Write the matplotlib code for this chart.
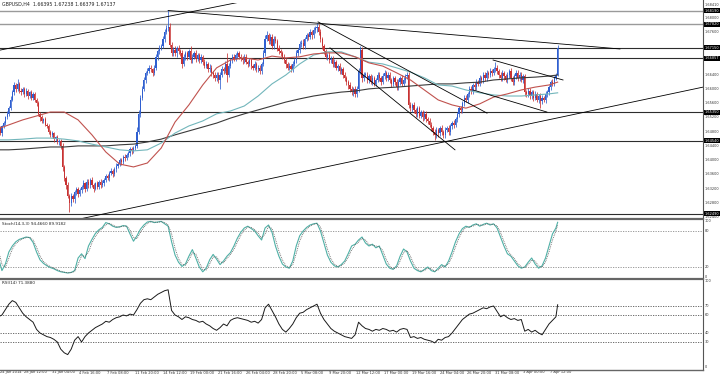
import numpy as np
import pandas as pd
import matplotlib
matplotlib.use('Agg')
import matplotlib.pyplot as plt
from matplotlib.lines import Line2D
from matplotlib.transforms import blended_transform_factory as blend

# GBPUSD H4, prices in pips above 1.6000 (bar 0 = 24 Jan 2014 00:00)
first_open = 485
closes = [
    480, 470, 490, 475, 495, 505, 520, 530, 545, 570,
    590, 610, 600, 615, 595, 590, 600, 585, 595, 580,
    590, 575, 585, 570, 560, 530, 520, 510, 515, 500,
    495, 480, 470, 475, 460, 465, 450, 455, 440, 380,
    350, 330, 300, 280, 300, 290, 310, 320, 305, 315,
    325, 335, 320, 340, 330, 345, 330, 320, 335, 325,
    340, 330, 335, 345, 355, 350, 365, 370, 360, 375,
    385, 390, 400, 395, 410, 405, 415, 420, 430, 425,
    435, 440, 480, 530, 575, 600, 625, 645, 650, 660,
    655, 645, 660, 690, 705, 715, 720, 740, 760, 770,
    775, 723, 700, 710, 700, 715, 705, 700, 670, 690,
    700, 690, 705, 680, 690, 700, 685, 695, 680, 690,
    675, 665, 670, 655, 660, 645, 640, 630, 640, 625,
    640, 655, 650, 670, 640, 665, 680, 690, 685, 695,
    700, 690, 685, 680, 690, 675, 670, 680, 665, 660,
    670, 655, 660, 650, 670, 700, 740, 750, 735, 745,
    720, 740, 735, 715, 705, 700, 690, 680, 670, 660,
    665, 655, 670, 680, 700, 710, 725, 730, 720, 740,
    750, 745, 760, 750, 765, 770, 775, 760, 740, 720,
    705, 690, 695, 680, 685, 670, 675, 660, 665, 650,
    655, 640, 630, 620, 610, 600, 590, 600, 585, 600,
    650, 710, 630, 640, 640, 625, 635, 620, 630, 615,
    625, 640, 630, 620, 635, 645, 630, 640, 625, 615,
    630, 620, 605, 620, 630, 615, 625, 635, 640, 555,
    545, 555, 540, 530, 545, 525, 535, 520, 530, 515,
    510, 500, 490, 480, 470, 485, 475, 490, 480, 470,
    485, 490, 480, 495, 505, 500, 515, 530, 545, 540,
    560, 575, 570, 585, 600, 595, 610, 605, 620, 615,
    630, 625, 640, 630, 645, 640, 650, 645, 655, 660,
    650, 640, 630, 645, 635, 625, 640, 650, 630, 620,
    635, 645, 630, 640, 625, 635, 590, 585, 595, 580,
    590, 575, 585, 570, 580, 565, 575, 570, 585, 590,
    605, 620, 615, 630, 639.5, 713.7,
]
wick_up = [
    5, 6, 4, 7, 5, 6, 4, 8, 6, 9,
    8, 10, 6, 12, 5, 7, 6, 5, 8, 6,
    5, 7, 6, 5, 4, 6, 5, 7, 4, 6,
    5, 6, 4, 8, 5, 4, 6, 5, 4, 8,
    6, 5, 8, 5, 9, 6, 7, 5, 6, 7,
    6, 8, 5, 7, 6, 5, 8, 6, 5, 7,
    5, 6, 8, 5, 7, 6, 5, 8, 6, 5,
    6, 5, 7, 6, 5, 8, 6, 5, 7, 6,
    5, 6, 12, 10, 8, 9, 7, 6, 8, 7,
    6, 5, 8, 7, 6, 8, 7, 9, 8, 10,
    45, 10, 8, 7, 9, 6, 8, 7, 10, 8,
    7, 6, 8, 15, 7, 6, 8, 7, 6, 8,
    6, 8, 7, 6, 9, 7, 6, 8, 7, 6,
    7, 8, 6, 9, 30, 7, 6, 8, 7, 6,
    6, 7, 8, 6, 7, 9, 6, 8, 7, 6,
    7, 6, 8, 7, 6, 10, 10, 12, 8, 10,
    8, 7, 9, 6, 8, 7, 6, 8, 7, 6,
    7, 6, 8, 7, 9, 6, 8, 7, 9, 6,
    8, 7, 9, 6, 8, 7, 10, 8, 7, 6,
    7, 8, 6, 9, 7, 6, 8, 7, 6, 8,
    7, 6, 8, 7, 6, 8, 7, 6, 8, 7,
    8, 10, 8, 7, 6, 8, 7, 6, 8, 7,
    6, 8, 7, 6, 9, 7, 6, 8, 7, 6,
    7, 6, 8, 7, 6, 8, 7, 6, 8, 8,
    7, 6, 8, 7, 6, 8, 7, 6, 8, 7,
    6, 7, 8, 6, 7, 8, 6, 7, 8, 6,
    7, 6, 8, 7, 6, 8, 7, 6, 8, 7,
    6, 8, 7, 6, 8, 7, 6, 8, 7, 6,
    8, 7, 6, 8, 7, 6, 8, 7, 6, 15,
    7, 6, 8, 7, 6, 8, 7, 6, 8, 7,
    6, 8, 7, 6, 8, 7, 8, 6, 7, 8,
    7, 6, 8, 7, 6, 8, 7, 6, 8, 7,
    7, 6, 8, 7, 6, 10,
]
wick_dn = [
    6, 5, 7, 4, 6, 5, 7, 5, 6, 4,
    5, 6, 8, 5, 7, 6, 5, 8, 6, 7,
    6, 5, 7, 6, 8, 5, 9, 6, 7, 5,
    6, 7, 5, 6, 8, 5, 6, 7, 9, 10,
    8, 10, 7, 25, 8, 6, 9, 7, 8, 6,
    7, 5, 8, 6, 7, 9, 6, 8, 5, 7,
    6, 8, 5, 7, 6, 5, 8, 6, 7, 5,
    7, 6, 5, 8, 6, 7, 5, 6, 8, 7,
    6, 7, 5, 6, 8, 7, 6, 9, 7, 6,
    8, 9, 6, 7, 8, 6, 7, 6, 8, 7,
    8, 6, 9, 7, 8, 10, 7, 8, 12, 7,
    8, 9, 7, 6, 8, 7, 9, 6, 8, 7,
    8, 7, 6, 9, 7, 8, 10, 7, 9, 8,
    25, 8, 7, 6, 20, 8, 7, 6, 8, 7,
    7, 6, 8, 9, 7, 6, 8, 7, 9, 8,
    8, 7, 9, 8, 7, 6, 8, 7, 9, 8,
    9, 8, 7, 10, 8, 9, 7, 8, 10, 7,
    8, 9, 7, 6, 8, 7, 9, 8, 7, 9,
    7, 8, 6, 9, 7, 8, 9, 10, 8, 9,
    8, 7, 9, 8, 7, 9, 8, 7, 9, 8,
    8, 9, 7, 8, 10, 9, 8, 10, 9, 8,
    9, 7, 10, 8, 7, 9, 8, 7, 9, 8,
    8, 7, 9, 8, 7, 8, 9, 7, 8, 9,
    8, 9, 7, 8, 9, 7, 8, 9, 7, 8,
    8, 9, 7, 8, 9, 7, 8, 9, 7, 8,
    9, 8, 7, 9, 13, 8, 9, 7, 8, 9,
    8, 7, 9, 8, 7, 9, 8, 7, 8, 9,
    8, 7, 8, 9, 7, 8, 9, 7, 8, 7,
    7, 8, 9, 7, 8, 9, 7, 8, 7, 8,
    8, 9, 7, 8, 9, 7, 8, 9, 7, 8,
    9, 7, 8, 9, 7, 8, 10, 8, 9, 7,
    8, 9, 7, 8, 9, 20, 8, 7, 9, 8,
    7, 8, 6, 7, 5, 2,
]

# moving averages, sampled every 8 bars (pips above 1.6000)
ma_bars = list(range(0, 321, 8)) + [325]
ma_fast = [485, 499, 513, 524, 535, 535, 513, 471, 423, 389,
           381, 392, 434, 507, 555, 611, 659, 681, 687, 681,
           692, 687, 690, 698, 701, 701, 690, 673, 664, 645,
           625, 597, 569, 555, 546, 558, 577, 586, 597, 605,
           611, 619]
ma_mid = [457, 457, 459, 462, 462, 459, 454, 445, 437, 429,
          426, 429, 448, 476, 496, 510, 530, 538, 552, 580,
          614, 639, 670, 695, 704, 704, 690, 675, 670, 659,
          647, 631, 611, 608, 597, 589, 583, 580, 580, 583,
          586, 589]
ma_slow = [429, 429, 431, 434, 437, 437, 440, 440, 440, 443,
           445, 451, 459, 471, 482, 493, 504, 518, 530, 541,
           552, 563, 572, 580, 586, 591, 594, 600, 603, 605,
           608, 611, 614, 614, 617, 619, 625, 628, 631, 633,
           636, 639]

# oscillators, sampled every 2 bars
osc_bars = list(range(0, 325, 2)) + [325]
stoch_k = [
    60, 35, 14, 25, 45, 55, 62, 66, 68, 70,
    69, 61, 45, 32, 26, 22, 19, 17, 14, 12,
    11, 10, 11, 14, 35, 42, 34, 55, 66, 76,
    82, 86, 94, 92, 88, 86, 87, 89, 88, 75,
    63, 72, 83, 90, 95, 96, 94, 95, 96, 92,
    88, 62, 40, 28, 21, 25, 38, 49, 35, 20,
    12, 18, 32, 41, 33, 24, 30, 38, 44, 55,
    68,
    78, 85, 88, 84, 80, 72, 65, 85, 90, 78,
    55, 38, 25, 20, 18, 30, 55, 72, 80, 86,
    90, 92, 93, 80, 60, 40, 28, 22, 20, 24,
    30, 42, 55, 58, 65, 70, 60, 55, 58, 52,
    55, 40, 25, 18, 16, 22, 38, 50, 45, 30,
    18, 14, 12, 16, 20, 14, 12, 18, 24, 20,
    30, 45, 62, 75, 84, 88, 86, 90, 92, 88,
    91, 93, 90, 92, 85, 70, 55, 42, 38, 30,
    22, 18, 20, 28, 35, 25, 18, 22, 35, 55,
    75, 85, 94.466,
]
rsi = [
    62, 58, 60, 66, 72, 76, 74, 68, 62, 58,
    55, 52, 44, 40, 38, 36, 35, 33, 30, 22,
    18, 16, 22, 32, 36, 30, 36, 40, 43, 46,
    48, 50, 53, 52, 55, 57, 58, 60, 59, 61,
    60, 66, 73, 77, 78, 77, 80, 83, 85, 87,
    88, 65, 60, 58, 55, 58, 57, 55, 54, 52,
    53, 50, 48, 45, 43, 46, 50, 48, 54, 56,
    57,
    56, 55, 54, 52, 53, 51, 55, 68, 72, 65,
    58, 50, 44, 41, 45, 50, 57, 62, 63, 66,
    68, 70, 72, 62, 55, 50, 45, 42, 40, 38,
    36, 35, 34, 38, 52, 48, 45, 44, 42, 44,
    43, 45, 44, 42, 43, 41, 44, 45, 44, 35,
    36, 34, 35, 33, 32, 31, 29, 33, 32, 35,
    36, 40, 45, 50, 55, 58, 61, 62, 64, 66,
    68, 67, 69, 70, 64, 58, 60, 57, 55, 56,
    54, 55, 42, 44, 41, 43, 40, 38, 44, 50,
    54, 58, 71.388,
]

# drawn objects: horizontal levels and trend lines (bar, price)
levels_grey = [1.68190, 1.67820]
levels_dark = [1.67150, 1.66857, 1.65350, 1.64540, 1.62490]
trend_lines = [
    ((0, 1.6706), (150, 1.6852)),
    ((100, 1.6820), (361, 1.6712)),
    ((49, 1.6235), (409, 1.6605)),
    ((186.6, 1.6788), (284.2, 1.6532)),
    ((193.5, 1.6715), (265.7, 1.6429)),
    ((287.7, 1.6681), (328.1, 1.6625)),
    ((276.1, 1.6597), (318.8, 1.6535)),
]
price_ticks = [1.68000, 1.67600, 1.66400, 1.66000, 1.65600, 1.65200,
               1.64800, 1.64400, 1.64000, 1.63600, 1.63200, 1.62800, 1.62400]
date_labels = ["24 Jan 2014", "28 Jan 12:00", "31 Jan 04:00", "4 Feb 16:00", "7 Feb 08:00",
               "11 Feb 20:00", "14 Feb 12:00", "19 Feb 00:00", "21 Feb 16:00", "26 Feb 04:00",
               "28 Feb 20:00", "5 Mar 08:00", "9 Mar 20:00", "12 Mar 12:00", "17 Mar 00:00",
               "19 Mar 16:00", "24 Mar 04:00", "26 Mar 20:00", "31 Mar 08:00", "3 Apr 00:00",
               "7 Apr 12:00"]

BLUE = '#2f5fd0'
RED = '#c83232'
W, H = 720, 376
RX = 703  # right axis, px
FS = 2.5  # scale font

fig = plt.figure(figsize=(W / 100, H / 100), dpi=100)


def panel(top, bottom):
    a = fig.add_axes([0, 1 - bottom / H, RX / W, (bottom - top) / H])
    a.set_xlim(2.89, 408.96)
    a.set_xticks([])
    a.set_yticks([])
    for s in a.spines.values():
        s.set_visible(False)
    return a


ax = panel(3, 219)
ax_st = panel(219, 279)
ax_rsi = panel(279, 369)

# candles
c = 1.6 + np.array(closes) / 1e4
o = np.r_[1.6 + first_open / 1e4, c[:-1]]
hi = np.maximum(o, c) + np.array(wick_up) / 1e4
lo = np.minimum(o, c) - np.array(wick_dn) / 1e4
x = np.arange(len(c))
col = np.where(c >= o, BLUE, RED)
ax.vlines(x, lo, hi, colors=col, lw=0.55, zorder=2)
ax.bar(x, np.maximum(np.abs(c - o), 0.00005), bottom=np.minimum(o, c),
       width=0.7, color=col, lw=0, zorder=2)
ax.set_ylim(1.62349, 1.6841)

mb = np.array(ma_bars)
ax.plot(mb, 1.6 + np.array(ma_slow) / 1e4, color='#3a3a3a', lw=0.8, zorder=3)
ax.plot(mb, 1.6 + np.array(ma_mid) / 1e4, color='#72b6bb', lw=0.8, zorder=3)
ax.plot(mb, 1.6 + np.array(ma_fast) / 1e4, color='#c0524e', lw=0.8, zorder=3)

for p in levels_grey:
    ax.axhline(p, color='#9a9a9a', lw=1.0, zorder=1)
for p in levels_dark:
    ax.axhline(p, color='#2d2d2d', lw=0.8, zorder=1)
for (x0, p0), (x1, p1) in trend_lines:
    ax.plot([x0, x1], [p0, p1], color='black', lw=0.6, zorder=4)

# price scale
tr = blend(fig.transFigure, ax.transData)
lx = (RX + 1.5) / W
ax.text(lx, 1.6841, "1.68410", transform=tr, fontsize=FS, va='top', color='#333', clip_on=False)
for p in price_ticks:
    ax.text(lx, p, f"{p:.5f}", transform=tr, fontsize=FS, va='center', color='#333', clip_on=False)
for p in levels_grey + levels_dark:
    ax.text(lx, p, f"{p:.5f}", transform=tr, fontsize=FS, va='center', color='white',
            clip_on=False, bbox=dict(boxstyle='square,pad=0.15', fc='black', ec='none'))

# stochastic
ob = np.array(osc_bars)
k = pd.Series(stoch_k, dtype=float)
d = k.rolling(2, min_periods=1).mean()
ax_st.set_ylim(0, 100)
for lvl in (80, 20):
    ax_st.axhline(lvl, color='#8c8c8c', lw=0.6, ls=(0, (1.5, 1.5)))
ax_st.plot(ob, k, color='#4fb0a6', lw=0.8)
ax_st.plot(ob, d, color='#555555', lw=0.6, ls=(0, (1, 1.2)))
tr = blend(fig.transFigure, ax_st.transData)
ax_st.text(lx, 100, "100", transform=tr, fontsize=FS, va='top', color='#333', clip_on=False)
ax_st.text(lx, 80, "80", transform=tr, fontsize=FS, va='center', color='#333', clip_on=False)
ax_st.text(lx, 20, "20", transform=tr, fontsize=FS, va='center', color='#333', clip_on=False)
ax_st.text(lx, 0, "0", transform=tr, fontsize=FS, va='bottom', color='#333', clip_on=False)

# RSI
ax_rsi.set_ylim(0, 100)
for lvl in (70, 60, 40, 30):
    ax_rsi.axhline(lvl, color='#555555', lw=0.6, ls=(0, (1.5, 1.5)))
ax_rsi.plot(ob, rsi, color='#1a1a1a', lw=0.7)
tr = blend(fig.transFigure, ax_rsi.transData)
ax_rsi.text(lx, 100, "100", transform=tr, fontsize=FS, va='top', color='#333', clip_on=False)
for lvl in (70, 60, 40, 30):
    ax_rsi.text(lx, lvl, str(lvl), transform=tr, fontsize=FS, va='center', color='#333', clip_on=False)
ax_rsi.text(lx, 0, "0", transform=tr, fontsize=FS, va='bottom', color='#333', clip_on=False)

# time scale (first label kept inside the picture)
tr = blend(ax_rsi.transData, fig.transFigure)
for i, lab in enumerate(date_labels):
    ax_rsi.text(max(i * 16 + 0.8, 3.1), 1 - 372.5 / H, lab, transform=tr, fontsize=2.6,
                va='center', ha='left', color='#333', clip_on=False)

# panel frames
fy = lambda py: 1 - py / H
fig.add_artist(Line2D([RX / W, RX / W], [fy(0), fy(370)], color='#555', lw=0.8))
for py in (219, 279):
    fig.add_artist(Line2D([0, RX / W], [fy(py), fy(py)], color='#666', lw=1.6))
fig.add_artist(Line2D([0, RX / W], [fy(369.5), fy(369.5)], color='#666', lw=1.0))

fig.text(2 / W, fy(4.5), "GBPUSD,H4  1.66395 1.67238 1.66379 1.67137", fontsize=3.4,
         va='center', color='#222')
fig.text(2 / W, fy(224.5), "Stoch(14,3,3) 94.4660 89.9182", fontsize=3.0, va='center', color='#222')
fig.text(2 / W, fy(283.5), "RSI(14) 71.3880", fontsize=3.0, va='center', color='#222')

fig.savefig('out.png', dpi=100, facecolor='white')
